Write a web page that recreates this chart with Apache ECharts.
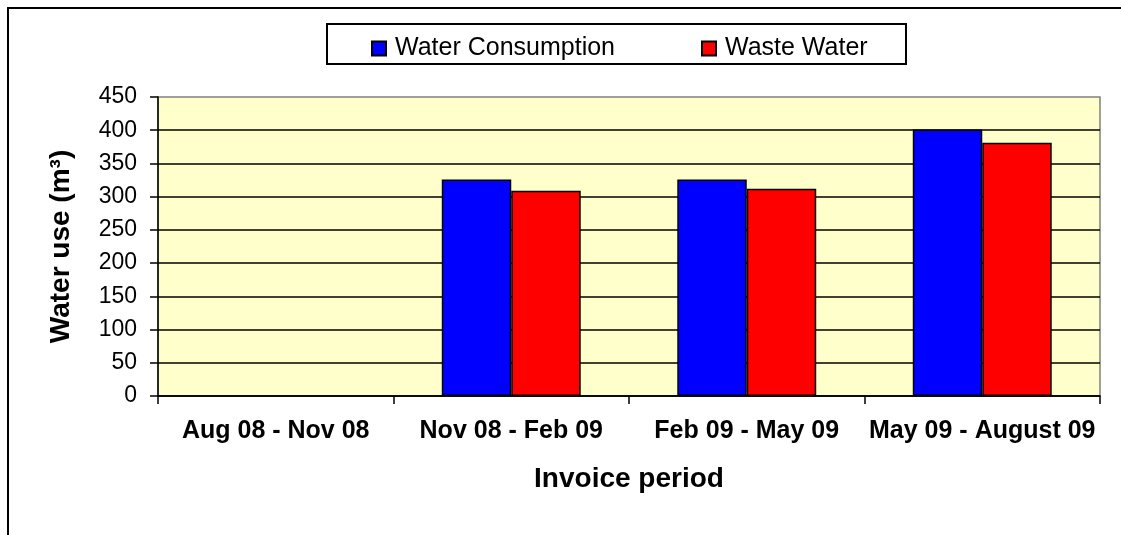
<!DOCTYPE html>
<html>
<head>
<meta charset="utf-8">
<script src="https://cdn.jsdelivr.net/npm/echarts@6/dist/echarts.min.js"></script>
<style>
  html, body { margin: 0; padding: 0; background: #fff; }
  #chart { width: 1121px; height: 535px; }
</style>
</head>
<body>
<div id="chart"></div>
<script>
// invoice periods on the x axis
const periods = ['Aug 08 - Nov 08', 'Nov 08 - Feb 09', 'Feb 09 - May 09', 'May 09 - August 09'];
// water use in m3, no reading for the first period
const waterConsumption = [null, 326, 326, 401];
const wasteWater = [null, 309, 312, 381];
const yTicks = { min: 0, max: 450, step: 50 };

const FONT = '"Liberation Sans", Arial, sans-serif';
const chart = echarts.init(document.getElementById('chart'));

const legendText = { color: '#000', fontSize: 25, fontFamily: FONT, padding: [0, 0, 0, 4] };

chart.setOption({
  animation: false,
  graphic: [
    // outer frame (only top and left edges are visible)
    {
      type: 'polyline',
      shape: { points: [[8, 535], [8, 8], [1121, 8]] },
      style: { stroke: '#000', lineWidth: 2, fill: null },
      silent: true
    },
    // legend box
    {
      type: 'rect',
      shape: { x: 327, y: 24, width: 579, height: 40 },
      style: { stroke: '#000', lineWidth: 2, fill: '#fff' },
      z: 0,
      silent: true
    }
  ],
  legend: [
    {
      data: ['Water Consumption'],
      left: 371, top: 36,
      itemWidth: 14, itemHeight: 14,
      icon: 'rect',
      padding: 0,
      textStyle: legendText,
      z: 5
    },
    {
      data: ['Waste Water'],
      left: 701, top: 36,
      itemWidth: 14, itemHeight: 14,
      icon: 'rect',
      padding: 0,
      textStyle: legendText,
      z: 5
    }
  ],
  grid: {
    left: 158, right: 21, top: 97, bottom: 139,
    show: true,
    backgroundColor: '#FFFFCC',
    borderColor: '#808080',
    borderWidth: 1.5
  },
  xAxis: {
    type: 'category',
    data: periods,
    name: 'Invoice period',
    nameLocation: 'middle',
    nameGap: 69,
    nameTextStyle: { color: '#000', fontSize: 28, fontWeight: 'bold', fontFamily: FONT },
    axisLine: { lineStyle: { color: '#000', width: 1.5 } },
    axisTick: { show: true, length: 8, lineStyle: { color: '#000', width: 1.5 } },
    axisLabel: { interval: 0, margin: 23, color: '#000', fontSize: 25, fontWeight: 'bold', fontFamily: FONT },
    splitLine: { show: false }
  },
  yAxis: {
    type: 'value',
    min: yTicks.min, max: yTicks.max, interval: yTicks.step,
    name: 'Water use (m³)',
    nameLocation: 'middle',
    nameRotate: 90,
    nameGap: 83,
    nameTextStyle: { color: '#000', fontSize: 28, fontWeight: 'bold', fontFamily: FONT },
    axisLine: { show: true, lineStyle: { color: '#000', width: 1.5 } },
    axisTick: { show: true, length: 8, lineStyle: { color: '#000', width: 1.5 } },
    axisLabel: { margin: 21, color: '#000', fontSize: 23, fontFamily: FONT },
    splitLine: { show: true, showMaxLine: false, lineStyle: { color: '#000', width: 1.5 } }
  },
  series: [
    {
      name: 'Water Consumption',
      type: 'bar',
      data: waterConsumption,
      barGap: '0%',
      barCategoryGap: '41%',
      itemStyle: { color: '#0000FF', borderColor: '#000', borderWidth: 1.5 }
    },
    {
      name: 'Waste Water',
      type: 'bar',
      data: wasteWater,
      barGap: '0%',
      barCategoryGap: '41%',
      itemStyle: { color: '#FF0000', borderColor: '#000', borderWidth: 1.5 }
    }
  ]
});
</script>
</body>
</html>
